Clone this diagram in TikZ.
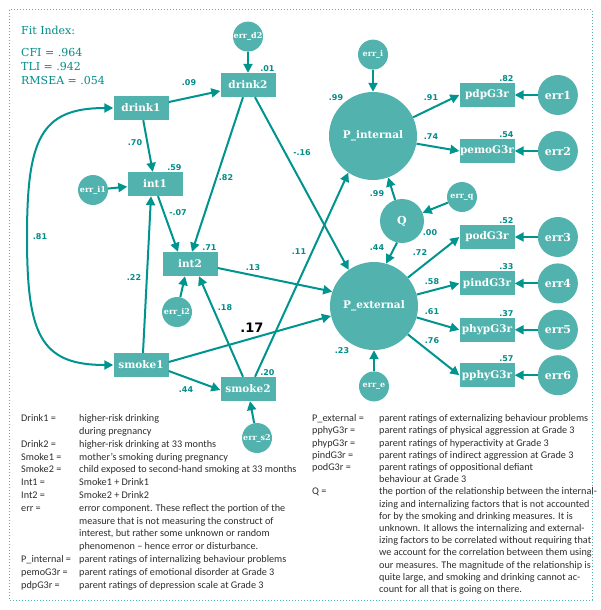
\documentclass[tikz,border=0pt]{standalone}
\usepackage{fontspec}
\setmainfont{Carlito}
\newfontfamily\slabfont{DejaVu Serif}
\newfontfamily\numfont{DejaVu Sans}
\usepackage{array}
\usepackage{tikz}
\usetikzlibrary{arrows.meta, positioning}
\definecolor{semfill}{RGB}{82,178,174}
\definecolor{semline}{RGB}{0,148,143}
\definecolor{semtext}{RGB}{0,140,136}
\definecolor{legendgray}{RGB}{45,45,45}

\begin{document}
\begin{tikzpicture}[
    x=1pt, y=-1pt,
    >={Triangle[length=9pt,width=9pt]},
    box/.style={rectangle, fill=semfill, text=white, inner sep=0pt, minimum width=55pt, minimum height=24pt, font={\slabfont\bfseries\fontsize{10.5}{12}\selectfont}},
    latent/.style={circle, fill=semfill, text=white, inner sep=0pt, minimum size=88pt, font={\slabfont\bfseries\fontsize{10.5}{12}\selectfont}},
    qnode/.style={latent, minimum size=44pt, font={\slabfont\bfseries\fontsize{11}{12}\selectfont}},
    errsm/.style={circle, fill=semfill, text=white, inner sep=0pt, minimum size=30pt, font={\slabfont\bfseries\fontsize{8}{9}\selectfont}},
    errbig/.style={errsm, minimum size=40pt, font={\slabfont\bfseries\fontsize{11}{12}\selectfont}},
    arrow/.style={->, line width=2pt, semline},
    corr/.style={<->, line width=2pt, semline},
    coef/.style={text=semtext, inner sep=1pt, font={\numfont\bfseries\fontsize{8}{9}\selectfont}},
    bigcoef/.style={text=black, inner sep=1pt, font={\numfont\bfseries\fontsize{13}{14}\selectfont}},
    fitstyle/.style={text=semtext, inner sep=0pt, align=left, font={\slabfont\fontsize{11}{14}\selectfont}},
    legend/.style={text=legendgray, inner sep=0pt, font={\fontsize{10.2}{12.8}\selectfont}},
    border/.style={semfill, line width=1pt, dash pattern=on 1pt off 2pt},
  ]
  \useasboundingbox (0,0) rectangle (600,610);
  \draw[border] (9,10) rectangle (592,600);

  % fit indices
  \node[fitstyle, anchor=north west] (fit) at (21,26) {Fit Index:};
  \node[fitstyle, below=13pt of fit.south west, anchor=north west] (fitvals) {CFI = .964\\TLI = .942\\RMSEA = .054};

  % observed and latent variables
  \node[box] (drink1) at (141,108) {drink1};
  \node[box] (drink2) at (248,85) {drink2};
  \node[errsm, above=21pt of drink2] (errd2) {err\_d2};
  \node[box] (int1) at (155,184) {int1};
  \node[errsm] (erri1) at (93,190) {err\_i1};
  \node[box] (int2) at (190,264) {int2};
  \node[errsm] (erri2) at (177,312) {err\_i2};
  \node[box] (smoke1) at (141,365) {smoke1};
  \node[box] (smoke2) at (248,389) {smoke2};
  \node[errsm] (errs2) at (257,438) {err\_s2};
  \node[latent] (pint) at (373,136) {P\_internal};
  \node[errsm, above=22pt of pint] (erri) {err\_i};
  \node[latent] (pext) at (374,306) {P\_external};
  \node[errsm, below=21pt of pext] (erre) {err\_e};
  \node[qnode] (Q) at (402,221) {Q};
  \node[errsm] (errq) at (462,197) {err\_q};
  \node[box] (pdp) at (487,95) {pdpG3r};
  \node[box] (pemo) at (487,151) {pemoG3r};
  \node[box] (pod) at (487,237) {podG3r};
  \node[box, below=22pt of pod] (pind) {pindG3r};
  \node[box, below=22pt of pind] (phyp) {phypG3r};
  \node[box, below=21pt of phyp] (pphy) {pphyG3r};
  \node[errbig, right=23pt of pdp] (err1) {err1};
  \node[errbig, right=23pt of pemo] (err2) {err2};
  \node[errbig, right=23pt of pod] (err3) {err3};
  \node[errbig, right=23pt of pind] (err4) {err4};
  \node[errbig, right=23pt of phyp] (err5) {err5};
  \node[errbig, right=23pt of pphy] (err6) {err6};

  % explained variance
  \node[coef, anchor=south east] (r2drink2) at (drink2.north east) {.01};
  \node[coef, anchor=south east] (r2int1) at (int1.north east) {.59};
  \node[coef, anchor=south east] (r2int2) at (int2.north east) {.71};
  \node[coef, anchor=south east] (r2smoke2) at (smoke2.north east) {.20};
  \node[coef, anchor=south east] (r2pdp) at (pdp.north east) {.82};
  \node[coef, anchor=south east] (r2pemo) at (pemo.north east) {.54};
  \node[coef, anchor=south east] (r2pod) at (pod.north east) {.52};
  \node[coef, anchor=south east] (r2pind) at (pind.north east) {.33};
  \node[coef, anchor=south east] (r2phyp) at (phyp.north east) {.37};
  \node[coef, anchor=south east] (r2pphy) at (pphy.north east) {.57};

  % paths
  \draw[arrow] (errd2) -- (drink2);
  \draw[arrow] (drink1) -- (drink2);
  \draw[arrow] (drink1) -- (int1);
  \draw[arrow] (erri1) -- (int1);
  \draw[arrow] ([xshift=-5pt]drink2.south) -- ([xshift=2pt]int2.north);
  \draw[arrow] ([xshift=7pt]drink2.south) -- (pext.125);
  \draw[arrow] ([xshift=3pt]int1.south) -- ([xshift=-12pt]int2.north);
  \draw[arrow] ([xshift=2pt]smoke1.north) -- ([xshift=-4pt]int1.south);
  \draw[arrow] (erri2) -- ([xshift=-5pt]int2.south);
  \draw[arrow] ([xshift=-5pt]smoke2.north) -- ([xshift=9pt]int2.south);
  \draw[arrow] ([xshift=7pt]smoke2.north) -- (pint.236);
  \draw[arrow] ([yshift=-6pt]smoke1.east) -- ([yshift=-1pt]smoke2.west);
  \draw[arrow] ([yshift=3pt]smoke1.east) -- (pext.193);
  \draw[arrow] ([yshift=-4pt]int2.east) -- (pext.161);
  \draw[arrow] (errs2) -- ([xshift=2pt]smoke2.south);
  \draw[corr] (drink1.west) .. controls (40,108) and (27,140) .. (27,237)
    .. controls (27,334) and (40,365) .. (smoke1.west);
  \draw[arrow] (erri) -- (pint);
  \draw[arrow] (pint.25) -- (pdp.west);
  \draw[arrow] (pint.-10) -- (pemo.west);
  \draw[arrow] (errq) -- (Q);
  \draw[arrow] (Q.108) -- (pint.-70);
  \draw[arrow] (Q.-103) -- (pext.74);
  \draw[arrow] (erre) -- (pext);
  \draw[arrow] (pext.40) -- (pod.west);
  \draw[arrow] (pext.15) -- (pind.west);
  \draw[arrow] (pext.-15) -- (phyp.west);
  \draw[arrow] (pext.-40) -- (pphy.west);
  \draw[arrow] (err1) -- (pdp);
  \draw[arrow] (err2) -- (pemo);
  \draw[arrow] (err3) -- (pod);
  \draw[arrow] (err4) -- (pind);
  \draw[arrow] (err5) -- (phyp);
  \draw[arrow] (err6) -- (pphy);

  % path coefficients
  \node[coef] (c09) at (189,83) {.09};
  \node[coef] (c70) at (135,143) {.70};
  \node[coef] (c82) at (226,178) {.82};
  \node[coef] (c16) at (302,153) {-.16};
  \node[coef] (c07) at (178,213) {-.07};
  \node[coef] (c13) at (253,268) {.13};
  \node[coef] (c11) at (299,252) {.11};
  \node[coef] (c22) at (134,278) {.22};
  \node[coef] (c81) at (40,237) {.81};
  \node[coef] (c18) at (225,308) {.18};
  \node[bigcoef] (c17) at (252,328) {.17};
  \node[coef] (c44s) at (186,390) {.44};
  \node[coef] (c99p) at (336,98) {.99};
  \node[coef] (c91) at (431,98) {.91};
  \node[coef] (c74) at (431,137) {.74};
  \node[coef] (c99q) at (377,194) {.99};
  \node[coef] (c00) at (430,233) {.00};
  \node[coef] (c44q) at (377,248) {.44};
  \node[coef] (c72) at (420,253) {.72};
  \node[coef] (c58) at (432,282) {.58};
  \node[coef] (c61) at (432,312) {.61};
  \node[coef] (c76) at (432,341) {.76};
  \node[coef] (c23) at (342,351) {.23};

  % legend
  \node[legend, anchor=north west] (legleft) at (21,412.5) {%
    \begin{tabular}{@{}w{l}{58pt}@{}l@{}}
      Drink1 = & higher-risk drinking\\
      & during pregnancy\\
      Drink2 = & higher-risk drinking at 33 months\\
      Smoke1 = & mother’s smoking during pregnancy\\
      Smoke2 = & child exposed to second-hand smoking at 33 months\\
      Int1 = & Smoke1 + Drink1\\
      Int2 = & Smoke2 + Drink2\\
      err = & error component. These reflect the portion of the\\
      & measure that is not measuring the construct of\\
      & interest, but rather some unknown or random\\
      & phenomenon -- hence error or disturbance.\\
      P\_internal = & parent ratings of internalizing behaviour problems\\
      pemoG3r = & parent ratings of emotional disorder at Grade 3\\
      pdpG3r = & parent ratings of depression scale at Grade 3
    \end{tabular}};
  \node[legend, anchor=north west, font={\fontsize{10.2}{12.2}\selectfont}] (legright) at (312,413) {%
    \begin{tabular}{@{}w{l}{67pt}@{}l@{}}
      P\_external = & parent ratings of externalizing behaviour problems\\
      pphyG3r = & parent ratings of physical aggression at Grade 3\\
      phypG3r = & parent ratings of hyperactivity at Grade 3\\
      pindG3r = & parent ratings of indirect aggression at Grade 3\\
      podG3r = & parent ratings of oppositional defiant\\
      & behaviour at Grade 3\\
      Q = & the portion of the relationship between the internal-\\
      & izing and internalizing factors that is not accounted\\
      & for by the smoking and drinking measures. It is\\
      & unknown. It allows the internalizing and external-\\
      & izing factors to be correlated without requiring that\\
      & we account for the correlation between them using\\
      & our measures. The magnitude of the relationship is\\
      & quite large, and smoking and drinking cannot ac-\\
      & count for all that is going on there.
    \end{tabular}};
\end{tikzpicture}
\end{document}
